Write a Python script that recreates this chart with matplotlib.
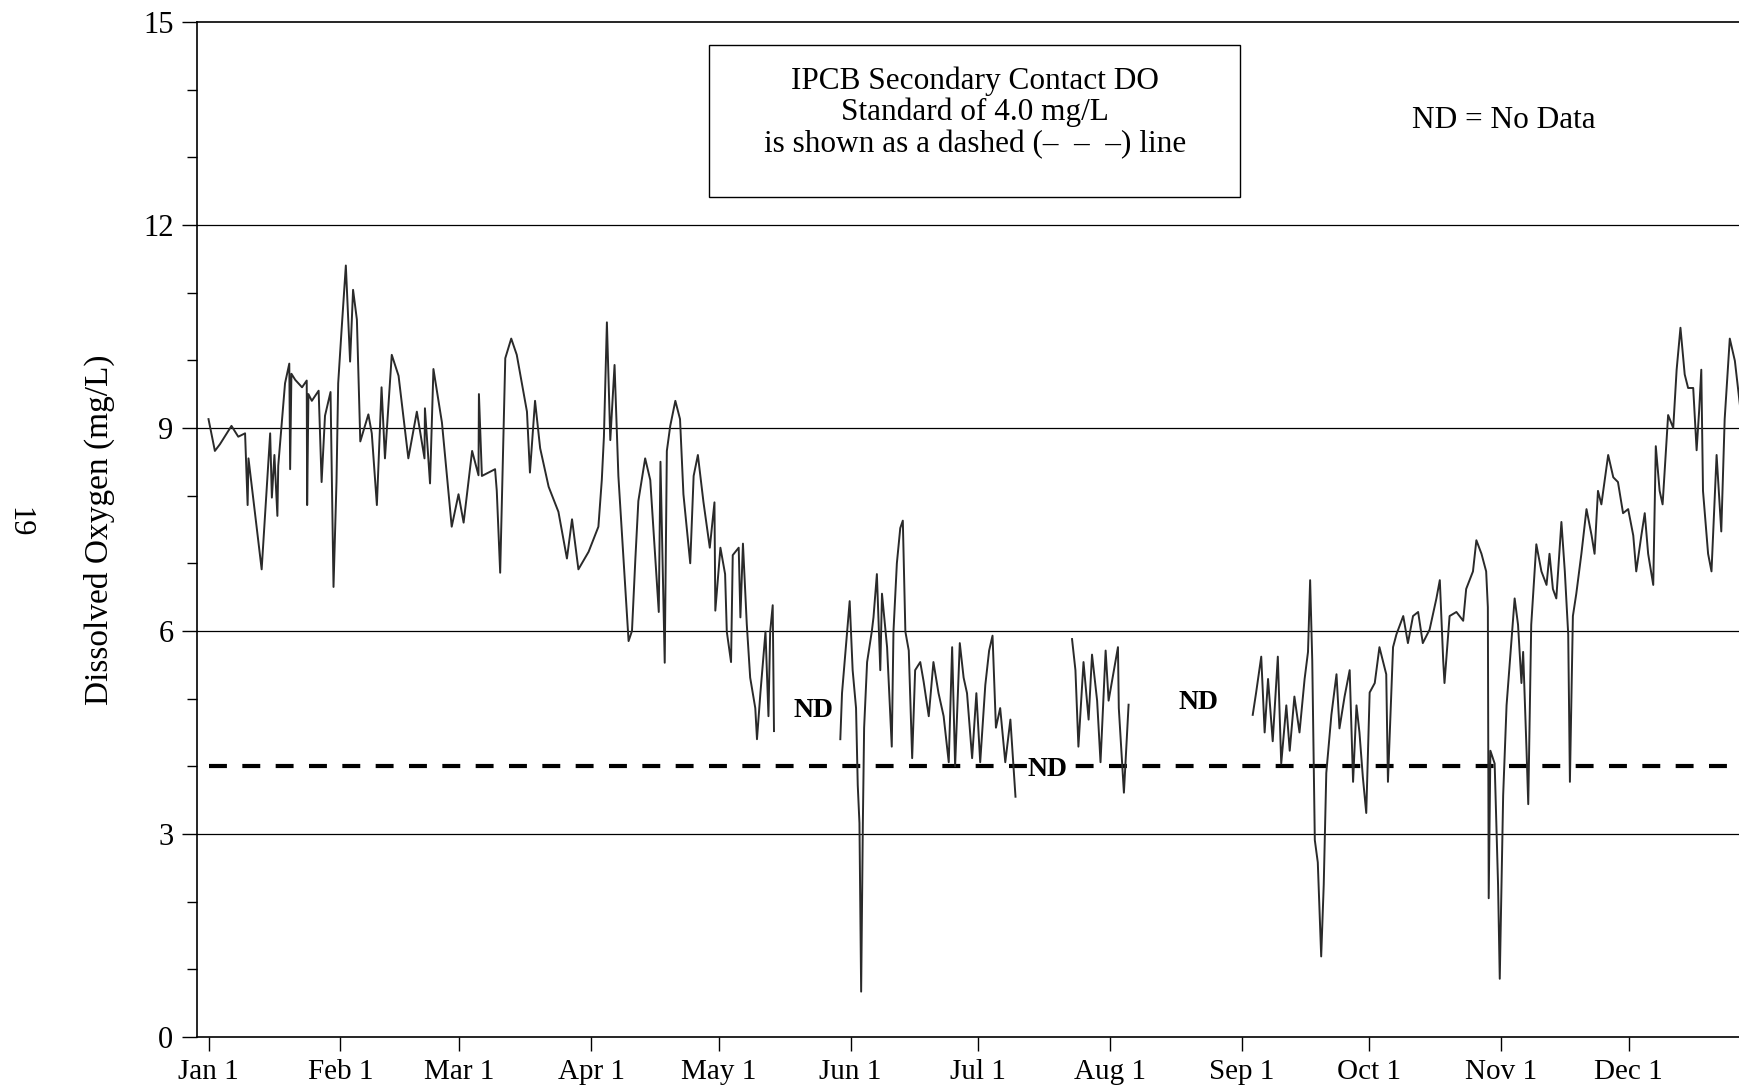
import numpy as np
import matplotlib
matplotlib.use("Agg")
import matplotlib.pyplot as plt
from matplotlib.patches import Rectangle

# day of year (Jan 1 = 0) and dissolved oxygen (mg/L); NaN marks "no data" gaps
day = [
    0, 1.5, 2.7, 5.4, 7, 8.6, 9.2, 9.4, 12.5, 14.5, 14.9, 15.5, 16.2, 16.4, 18, 19,
    19.2, 19.5, 20.4, 22, 23.1, 23.2, 23.5, 24.3, 25.9, 26.6, 27.4, 28.7, 29.4, 30.1,
    30.5, 31.3, 32.3, 33.3, 34, 34.9, 35.7, 37.6, 38.4, 39.6, 40.7, 41.5, 43.1, 44.7,
    47, 49, 50.8, 50.9, 52.1, 52.9, 54.9, 57.2, 58.8, 60, 62, 63.5, 63.6, 64.3, 67.4,
    67.8, 68.6, 69.8, 71.2, 72.5, 74.9, 75.6, 76.8, 78, 80, 82.3, 84.3, 85.5, 87, 89.4,
    91.7, 92.5, 93, 93.7, 94.5, 95.5, 96.4, 98.8, 99.6, 100.4, 101.1, 102.7, 103.9,
    105.9, 106.3, 107.3, 107.8, 108.6, 109.8, 110.9, 111.7, 113.3, 114.1, 115.1,
    116.4, 117.9, 119.0, 119.2, 120.4, 121.5, 121.9, 122.9, 123.3, 124.7, 125.1, 125.7,
    126.6, 127.4, 128.6, 129, 129.8, 131, 131.7, 132.1, 132.7, 133,
    140,
    148.6, 149, 150.8, 151.5, 152.3, 152.7, 153.1, 153.5, 153.9, 154.2, 154.9, 156.0,
    156.4, 157.2, 158.0, 158.4, 159.6, 160.7, 161.1, 161.9, 162.7, 163.3, 163.9, 164.7,
    165.5, 166.2, 167.4, 168.2, 169.4, 170.5, 171.7, 172.9, 174.1, 174.9, 175.6, 176.7,
    177.6, 178.4, 179.6, 180.6, 181.5, 182.7, 183.6, 184.4, 185.2, 186.2, 187.4, 188.6,
    189.8,
    196,
    203.1, 203.9, 204.6, 205.8, 207, 207.8, 209, 209.8, 211, 211.7, 213.9, 214.1, 215.3,
    216.4,
    230,
    245.6, 246.4, 247.6, 248.4, 249.2, 250.3, 251.5, 252.3, 253.5, 254.3, 255.4, 256.6,
    257.8, 258.6, 259.1, 259.6, 260.2, 260.9, 261.7, 262.3, 262.9, 264.1, 265.3, 266.0,
    267.2, 268.4, 269.2, 270.0, 270.7, 271.5, 272.3, 273.1, 274.3, 275.4, 277.0, 277.4,
    278.6, 279.4, 281.0, 282.1, 283.3, 284.5, 285.6, 287.2, 288.8, 289.6, 290.4, 290.7,
    291.9, 293.5, 295.1, 295.8, 297.4, 298.2, 299.4, 300.5, 300.9, 301.1, 301.5, 302.5,
    303.3, 303.7, 304.5, 305.3, 306.4, 307.2, 308.0, 308.8, 309.2, 310.0, 310.4, 311.1,
    312.3, 313.5, 314.7, 315.4, 316.2, 317.0, 318.2, 319.0, 319.8, 320.2, 320.9, 321.7,
    322.9, 324.1, 325.3, 326.0, 326.8, 327.6, 329.2, 330.4, 331.5, 332.7, 333.9, 335.1,
    335.8, 337.0, 337.8, 338.6, 339.8, 340.4, 341.3, 342.0, 343.3, 344.5, 345.3, 346.2,
    347.2, 348.0, 349.2, 350.0, 350.6, 351.1, 351.5, 352.7, 353.5, 354.7, 355.8, 356.6,
    357.8, 359.0, 360.2, 362.5,
]
do_mgl = [
    9.13, 8.66, 8.76, 9.03, 8.87, 8.92, 7.86, 8.55, 6.91, 8.92, 7.97, 8.6, 7.7, 8.44, 9.66, 9.95,
    8.39, 9.8, 9.71, 9.6, 9.7, 7.86, 9.5, 9.4, 9.55, 8.2, 9.18, 9.53, 6.65, 8.2,
    9.66, 10.45, 11.4, 9.98, 11.04, 10.6, 8.8, 9.2, 8.92, 7.86, 9.6, 8.55, 10.08, 9.77,
    8.55, 9.24, 8.55, 9.29, 8.18, 9.87, 9.08, 7.54, 8.02, 7.6, 8.66, 8.3, 9.5, 8.29, 8.39,
    8.07, 6.86, 10.03, 10.32, 10.08, 9.24, 8.34, 9.4, 8.7, 8.13, 7.76, 7.07, 7.65, 6.91, 7.17,
    7.54, 8.23, 8.87, 10.56, 8.82, 9.93, 8.29, 5.85, 6.0, 7.07, 7.92, 8.55, 8.23,
    6.28, 8.5, 5.53, 8.66, 9.03, 9.4, 9.13, 8.02, 7.0, 8.29, 8.6,
    7.91, 7.23, 7.9, 6.3, 7.23, 6.84, 5.99, 5.54, 7.12, 7.23, 6.2, 7.29,
    6.1, 5.31, 4.86, 4.4, 5.08, 5.99, 4.74, 5.99, 6.38, 4.52,
    np.nan,
    4.4, 5.08, 6.44, 5.42, 4.86, 3.72, 3.16, 0.67, 3.16, 4.57, 5.54, 5.99,
    6.2, 6.84, 5.42, 6.55, 5.76, 4.29, 5.99, 7.0, 7.52, 7.63, 5.99, 5.71,
    4.12, 5.42, 5.54, 5.25, 4.74, 5.54, 5.08, 4.74, 4.06, 5.76, 4.0, 5.82,
    5.31, 5.08, 4.12, 5.08, 4.06, 5.2, 5.71, 5.93, 4.57, 4.86, 4.06, 4.69,
    3.55,
    np.nan,
    5.88, 5.42, 4.29, 5.54, 4.69, 5.65, 4.97, 4.06, 5.71, 4.97, 5.76, 4.86, 3.61,
    4.91,
    np.nan,
    4.76, 5.09, 5.62, 4.5, 5.29, 4.37, 5.62, 4.04, 4.9, 4.23, 5.03, 4.5,
    5.29, 5.69, 6.75, 5.56, 2.91, 2.58, 1.19, 2.25, 3.9, 4.76, 5.36, 4.56,
    5.03, 5.42, 3.77, 4.9, 4.5, 3.84, 3.31, 5.09, 5.23, 5.76, 5.36, 3.77,
    5.76, 5.95, 6.22, 5.82, 6.22, 6.28, 5.82, 6.02, 6.48, 6.75, 5.56, 5.23,
    6.22, 6.28, 6.15, 6.62, 6.88, 7.34, 7.14, 6.88, 6.35, 2.05, 4.23, 4.04,
    2.25, 0.86, 3.57, 4.9, 5.82, 6.48, 6.09, 5.23, 5.69, 4.23, 3.44, 6.09,
    7.28, 6.88, 6.68, 7.14, 6.62, 6.48, 7.61, 6.88, 5.95, 3.77, 6.22, 6.55,
    7.14, 7.8, 7.41, 7.14, 8.07, 7.87, 8.6, 8.27, 8.2, 7.74, 7.8, 7.41,
    6.88, 7.41, 7.74, 7.14, 6.68, 8.73, 8.07, 7.87, 9.19, 9.0, 9.86, 10.48,
    9.79, 9.59, 9.59, 8.67, 9.26, 9.86, 8.07, 7.14, 6.88, 8.6, 7.47, 9.13,
    10.32, 9.99, 9.33, 9.5,
]

month_days = [0, 31, 59, 90, 120, 151, 181, 212, 243, 273, 304, 334]
month_labels = ["Jan 1", "Feb 1", "Mar 1", "Apr 1", "May 1", "Jun 1",
                "Jul 1", "Aug 1", "Sep 1", "Oct 1", "Nov 1", "Dec 1"]
y_ticks = [0, 3, 6, 9, 12, 15]
STANDARD = 4.0

plt.rcParams["font.family"] = ["Liberation Serif", "DejaVu Serif"]

fig = plt.figure(figsize=(17.39, 10.88), dpi=100)
ax = fig.add_axes([0.1133, 0.0469, 0.899, 0.933])

ax.set_xlim(-2.7, 365)
ax.set_ylim(0, 15)

for y in y_ticks[1:-1]:
    ax.axhline(y, color="black", lw=0.9, zorder=1)

ax.hlines(STANDARD, month_days[0], 365, colors="black", linestyles=(0, (4.3, 3.7)),
          lw=3.0, zorder=2)
ax.plot(day, do_mgl, color="#2a2a2a", lw=1.4, zorder=3)

ax.set_yticks(y_ticks)
ax.set_yticks(np.arange(0, 16, 1), minor=True)
ax.set_xticks(month_days)
ax.set_xticklabels(month_labels)
ax.tick_params(axis="y", which="major", length=11, width=1, labelsize=22, pad=6)
ax.tick_params(axis="y", which="minor", length=7, width=1)
ax.tick_params(axis="x", which="major", length=10, width=1, labelsize=21, pad=6)

for s in ["left", "bottom", "top"]:
    ax.spines[s].set_linewidth(1.2)
ax.spines["right"].set_visible(False)

ax.set_ylabel("Dissolved Oxygen (mg/L)", fontsize=24, labelpad=20)

# standard note box
ax.add_patch(Rectangle((0.3276, 0.8276), 0.3397, 0.1497, transform=ax.transAxes,
                       fill=False, edgecolor="black", lw=1.0, zorder=4))
note = ["IPCB Secondary Contact DO", "Standard of 4.0 mg/L",
        "is shown as a dashed (\u2013  \u2013  \u2013) line"]
for txt, yy in zip(note, [0.9419, 0.9113, 0.8788]):
    ax.text(0.4978, yy, txt, transform=ax.transAxes, ha="center", va="center",
            fontsize=22.5)

ax.text(0.8362, 0.9025, "ND = No Data", transform=ax.transAxes, ha="center",
        va="center", fontsize=22.5)

nd_spots = [(142.3, 4.82), (197.3, 3.95), (232.8, 4.94)]
for x, y in nd_spots:
    ax.text(x, y, "ND", ha="center", va="center", fontsize=20, fontweight="bold",
            bbox=dict(facecolor="white", edgecolor="none", pad=0), zorder=5)

fig.text(0.011, 0.52, "19", rotation=-90, ha="center", va="center", fontsize=22)

fig.savefig("out.png", dpi=100, facecolor="white")
